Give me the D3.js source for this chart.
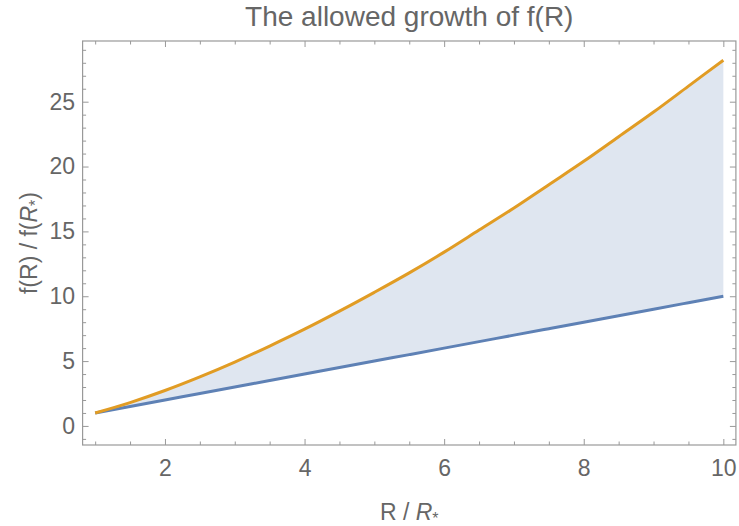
<!DOCTYPE html>
<html>
<head>
<meta charset="utf-8">
<script src="https://cdn.jsdelivr.net/npm/d3@7"></script>
<style>
  body { margin: 0; background: #fff; }
  svg text { font-family: "Liberation Sans", Arial, sans-serif; fill: #666; }
</style>
</head>
<body>
<div id="chart"></div>
<script>
// R / R* sample points
const rValues = [1, 1.5, 2, 2.5, 3, 3.5, 4, 4.5, 5, 5.5, 6, 6.5, 7, 7.5, 8, 8.5, 9, 9.5, 10];
// upper bound (orange)
const upperValues = [1, 1.8, 2.73, 3.78, 4.92, 6.16, 7.46, 8.85, 10.3, 11.8, 13.4, 15.1, 16.8, 18.6, 20.4, 22.3, 24.2, 26.2, 28.2];
// lower bound (blue), straight line
const lowerValues = [1, 1.5, 2, 2.5, 3, 3.5, 4, 4.5, 5, 5.5, 6, 6.5, 7, 7.5, 8, 8.5, 9, 9.5, 10];

const xTicks = [2, 4, 6, 8, 10];
const yTicks = [0, 5, 10, 15, 20, 25];

const width = 739, height = 526;
const frame = {left: 82.6, right: 735.9, top: 41, bottom: 445};

const svg = d3.select('#chart').append('svg')
    .attr('width', width)
    .attr('height', height);

const x = d3.scaleLinear().domain([0.82, 10.18]).range([frame.left, frame.right]);
const y = d3.scaleLinear().domain([-1.47, 29.68]).range([frame.bottom, frame.top]);

const data = rValues.map((r, i) => ({r: r, lo: lowerValues[i], hi: upperValues[i]}));

// filled band between the two curves
svg.append('path')
    .datum(data)
    .attr('fill', '#5e81b5')
    .attr('fill-opacity', 0.2)
    .attr('d', d3.area()
        .x(d => x(d.r))
        .y0(d => y(d.lo))
        .y1(d => y(d.hi))
        .curve(d3.curveMonotoneX));

svg.append('path')
    .datum(data)
    .attr('fill', 'none')
    .attr('stroke', '#5e81b5')
    .attr('stroke-width', 3)
    .attr('d', d3.line().x(d => x(d.r)).y(d => y(d.lo)).curve(d3.curveMonotoneX));

svg.append('path')
    .datum(data)
    .attr('fill', 'none')
    .attr('stroke', '#e19c24')
    .attr('stroke-width', 3)
    .attr('d', d3.line().x(d => x(d.r)).y(d => y(d.hi)).curve(d3.curveMonotoneX));

// frame with ticks on all four sides
const xMinor = d3.range(1, 10.01, 0.5).filter(v => xTicks.indexOf(v) < 0);
const yMinor = d3.range(-1, 30, 1).filter(v => yTicks.indexOf(v) < 0);

function axisStyle(g) {
    g.select('.domain').remove();
    g.selectAll('line').attr('stroke', '#999');
    g.selectAll('text').attr('font-size', 23).style('fill', '#666');
}

svg.append('g').attr('transform', `translate(0,${frame.bottom})`)
    .call(d3.axisBottom(x).tickValues(xTicks).tickSize(-6).tickPadding(15))
    .call(axisStyle);
svg.append('g').attr('transform', `translate(0,${frame.bottom})`)
    .call(d3.axisBottom(x).tickValues(xMinor).tickSize(-3.5).tickFormat(''))
    .call(axisStyle);
svg.append('g').attr('transform', `translate(0,${frame.top})`)
    .call(d3.axisTop(x).tickValues(xTicks).tickSize(-6).tickFormat(''))
    .call(axisStyle);
svg.append('g').attr('transform', `translate(0,${frame.top})`)
    .call(d3.axisTop(x).tickValues(xMinor).tickSize(-3.5).tickFormat(''))
    .call(axisStyle);

svg.append('g').attr('transform', `translate(${frame.left},0)`)
    .call(d3.axisLeft(y).tickValues(yTicks).tickSize(-6).tickPadding(7.5))
    .call(axisStyle);
svg.append('g').attr('transform', `translate(${frame.left},0)`)
    .call(d3.axisLeft(y).tickValues(yMinor).tickSize(-3.5).tickFormat(''))
    .call(axisStyle);
svg.append('g').attr('transform', `translate(${frame.right},0)`)
    .call(d3.axisRight(y).tickValues(yTicks).tickSize(-6).tickFormat(''))
    .call(axisStyle);
svg.append('g').attr('transform', `translate(${frame.right},0)`)
    .call(d3.axisRight(y).tickValues(yMinor).tickSize(-3.5).tickFormat(''))
    .call(axisStyle);

svg.append('rect')
    .attr('x', frame.left).attr('y', frame.top)
    .attr('width', frame.right - frame.left).attr('height', frame.bottom - frame.top)
    .attr('fill', 'none')
    .attr('stroke', '#999')
    .attr('stroke-width', 1.2);

// title and axis labels
const midX = (frame.left + frame.right) / 2;
svg.append('text')
    .attr('x', midX).attr('y', 26)
    .attr('text-anchor', 'middle')
    .attr('font-size', 28)
    .text('The allowed growth of f(R)');

const xLabel = svg.append('text')
    .attr('x', midX).attr('y', 520)
    .attr('text-anchor', 'middle')
    .attr('font-size', 23);
xLabel.append('tspan').text('R / ');
xLabel.append('tspan').attr('font-style', 'italic').text('R');
xLabel.append('tspan').attr('font-size', 16).attr('dy', 4).text('*');

const yLabel = svg.append('text')
    .attr('transform', `translate(37,${(frame.top + frame.bottom) / 2}) rotate(-90)`)
    .attr('text-anchor', 'middle')
    .attr('font-size', 23);
yLabel.append('tspan').text('f(R) / f(');
yLabel.append('tspan').attr('font-style', 'italic').text('R');
yLabel.append('tspan').attr('font-size', 16).attr('dy', 4).text('*');
yLabel.append('tspan').attr('dy', -4).text(')');
</script>
</body>
</html>
